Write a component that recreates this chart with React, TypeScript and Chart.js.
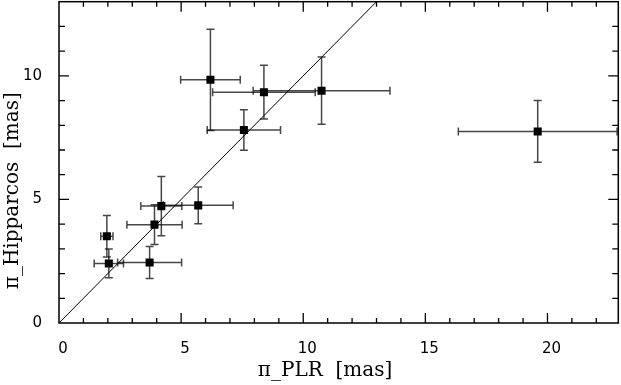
import React, { useEffect, useRef } from "react";
import { Chart, registerables } from "chart.js";

Chart.register(...registerables);

// Data
const xVals = [6.2, 8.39, 10.75, 7.57, 19.6, 4.19, 5.7, 3.91, 1.96, 2.04, 3.71];
const yVals = [9.84, 9.34, 9.4, 7.81, 7.75, 4.73, 4.76, 3.98, 3.51, 2.41, 2.45];
const xErr = [1.22, 2.1, 2.8, 1.5, 3.25, 0.84, 1.43, 1.13, 0.25, 0.6, 1.31];
const yErr = [2.05, 1.09, 1.36, 0.82, 1.25, 1.2, 0.74, 0.8, 0.84, 0.58, 0.65];
const lineX = [0, 13];
const lineY = [0, 13];
const xRange = [0, 22.9];
const yRange = [0, 13];
const xTitle = "\u03c0_PLR  [mas]";
const yTitle = "\u03c0_Hipparcos  [mas]";

const errorBarPlugin = {
  id: "errorBars",
  beforeDatasetsDraw(chart: any) {
    const ctx = chart.ctx;
    const xs = chart.scales.x;
    const ys = chart.scales.y;
    ctx.save();
    ctx.strokeStyle = "rgba(0,0,0,0.72)";
    ctx.lineWidth = 1.5;
    const cap = 4;
    for (let i = 0; i < xVals.length; i++) {
      const px = xs.getPixelForValue(xVals[i]);
      const py = ys.getPixelForValue(yVals[i]);
      const x0 = xs.getPixelForValue(xVals[i] - xErr[i]);
      const x1 = xs.getPixelForValue(xVals[i] + xErr[i]);
      const y0 = ys.getPixelForValue(yVals[i] - yErr[i]);
      const y1 = ys.getPixelForValue(yVals[i] + yErr[i]);
      ctx.beginPath();
      ctx.moveTo(x0, py); ctx.lineTo(x1, py);
      ctx.moveTo(x0, py - cap); ctx.lineTo(x0, py + cap);
      ctx.moveTo(x1, py - cap); ctx.lineTo(x1, py + cap);
      ctx.moveTo(px, y0); ctx.lineTo(px, y1);
      ctx.moveTo(px - cap, y0); ctx.lineTo(px + cap, y0);
      ctx.moveTo(px - cap, y1); ctx.lineTo(px + cap, y1);
      ctx.stroke();
    }
    ctx.restore();
  },
};

const framePlugin = {
  id: "frame",
  afterDraw(chart: any) {
    const ctx = chart.ctx;
    const a = chart.chartArea;
    const xs = chart.scales.x;
    const ys = chart.scales.y;
    ctx.save();
    ctx.strokeStyle = "#000";
    ctx.lineWidth = 1.5;
    ctx.strokeRect(a.left, a.top, a.right - a.left, a.bottom - a.top);
    ctx.lineWidth = 1.3;
    ctx.beginPath();
    for (let v = 1; v < xRange[1]; v++) {
      const p = xs.getPixelForValue(v);
      const len = v % 5 === 0 ? 10 : 5;
      ctx.moveTo(p, a.bottom); ctx.lineTo(p, a.bottom - len);
      ctx.moveTo(p, a.top); ctx.lineTo(p, a.top + len);
    }
    for (let v = 1; v < yRange[1]; v++) {
      const p = ys.getPixelForValue(v);
      const len = v % 5 === 0 ? 10 : 6;
      ctx.moveTo(a.left, p); ctx.lineTo(a.left + len, p);
      ctx.moveTo(a.right, p); ctx.lineTo(a.right - len, p);
    }
    ctx.stroke();

    ctx.fillStyle = "#000";
    ctx.font = '20px "DejaVu Serif"';
    ctx.textAlign = "center";
    ctx.textBaseline = "middle";
    ctx.fillText(xTitle, a.left + 266, a.bottom + 48);
    ctx.translate(13, a.top + 189);
    ctx.rotate(-Math.PI / 2);
    ctx.fillText(yTitle, 0, 0);
    ctx.restore();
  },
};

export default function App() {
  const ref = useRef<HTMLCanvasElement | null>(null);
  useEffect(() => {
    document.body.style.margin = "0";
    if (!ref.current) return;
    const points = xVals.map((x, i) => ({ x, y: yVals[i] }));
    const line = lineX.map((x, i) => ({ x, y: lineY[i] }));
    const chart = new Chart(ref.current, {
      type: "scatter",
      data: {
        datasets: [
          {
            data: line,
            showLine: true,
            borderColor: "#000",
            borderWidth: 1,
            pointRadius: 0,
            pointHoverRadius: 0,
            fill: false,
          } as any,
          {
            data: points,
            pointStyle: "rect",
            pointRadius: 5.7,
            pointHoverRadius: 0,
            pointBackgroundColor: "#000",
            pointBorderWidth: 0,
            showLine: false,
          } as any,
        ],
      },
      options: {
        animation: false,
        responsive: false,
        layout: { padding: 0 },
        plugins: { legend: { display: false }, tooltip: { enabled: false } },
        scales: {
          x: {
            type: "linear",
            min: xRange[0],
            max: xRange[1],
            grid: { display: false },
            border: { display: false },
            ticks: {
              stepSize: 5,
              includeBounds: false,
              padding: 9,
              labelOffset: 4,
              color: "#000",
              font: { family: "DejaVu Sans", size: 15 },
              maxRotation: 0,
              callback: (v: any) => (Number(v) % 5 === 0 ? String(v) : ""),
            },
            afterFit: (s: any) => {
              s.height = 62;
              s.paddingLeft = 0;
              s.paddingRight = 0;
              s.paddingTop = 0;
              s.paddingBottom = 0;
            },
          },
          y: {
            type: "linear",
            min: yRange[0],
            max: yRange[1],
            grid: { display: false },
            border: { display: false },
            ticks: {
              stepSize: 5,
              includeBounds: false,
              padding: 9,
              color: "#000",
              font: { family: "DejaVu Sans", size: 15 },
              callback: (v: any) => (Number(v) % 5 === 0 ? String(v) : ""),
            },
            afterFit: (s: any) => {
              s.width = 59;
              s.paddingLeft = 0;
              s.paddingRight = 0;
              s.paddingTop = 0;
              s.paddingBottom = 0;
            },
          },
        },
      },
      plugins: [errorBarPlugin, framePlugin],
    });
    return () => chart.destroy();
  }, []);
  return (
    <div style={{ position: "relative", width: 621, height: 385, overflow: "hidden" }}>
      <canvas
        ref={ref}
        width={624}
        height={389}
        style={{ display: "block", position: "absolute", left: 0, top: -4 }}
      />
    </div>
  );
}
